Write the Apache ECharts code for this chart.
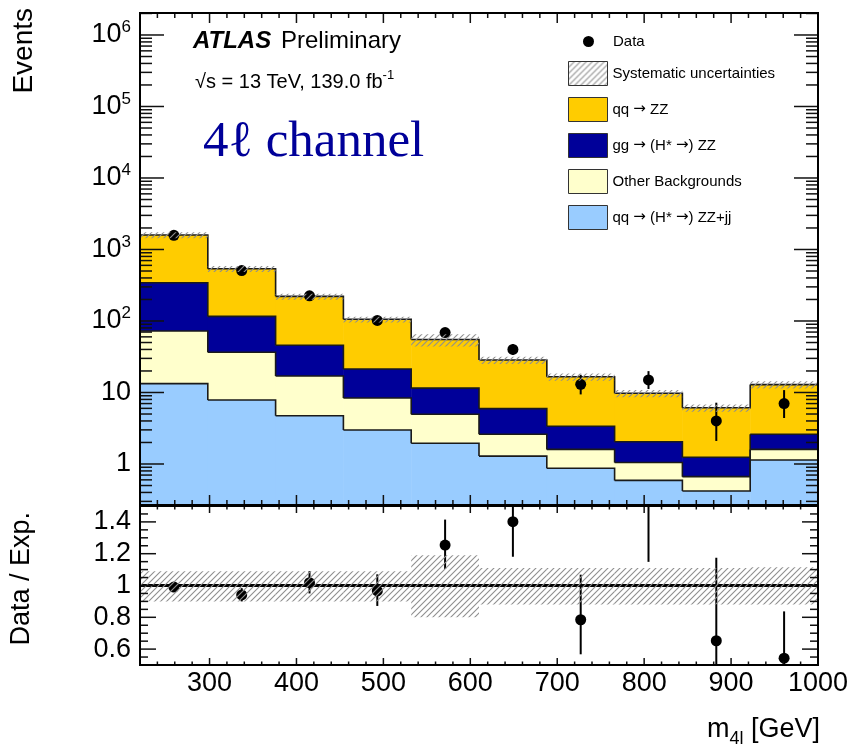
<!DOCTYPE html>
<html>
<head>
<meta charset="utf-8">
<script src="https://cdn.jsdelivr.net/npm/echarts@6/dist/echarts.min.js"></script>
<style>
html, body { margin: 0; padding: 0; background: #fff; }
#chart { width: 852px; height: 750px; }
</style>
</head>
<body>
<div id="chart"></div>
<script>
// m4l binning (GeV)
const binEdges = [220, 298, 376, 454, 532, 610, 688, 766, 844, 922, 1000];

// expected events per bin, per process
const qqZZjj   = [13.3, 7.86, 4.74, 2.99, 1.95, 1.29, 0.87, 0.59, 0.42, 1.14];
const otherBkg = [59.2, 28.6, 12.3, 5.39, 3.01, 1.31, 0.73, 0.46, 0.245, 0.46];
const ggZZ     = [270.5, 79.5, 28.7, 12.9, 6.54, 3.34, 1.77, 1.0, 0.575, 1.0];
const qqZZ     = [1253, 423, 175.3, 84.3, 43.5, 22.6, 13.2, 7.7, 4.89, 10.3];

// observed events with asymmetric statistical errors
const dataCounts  = [1580, 507, 225, 102, 69, 40, 13, 15, 4, 7];
const dataErrUp   = [40, 23, 16, 11, 8.8, 7.4, 4.7, 4.9, 3.2, 3.8];
const dataErrDown = [40, 22, 15, 10, 8.3, 6.3, 3.6, 3.8, 1.9, 2.6];

// relative systematic uncertainty of the expectation
const sysUp   = [0.09, 0.09, 0.09, 0.09, 0.19, 0.11, 0.11, 0.11, 0.11, 0.115];
const sysDown = [0.10, 0.10, 0.10, 0.10, 0.20, 0.12, 0.12, 0.12, 0.12, 0.12];

// tick labels
const massTicks = [300, 400, 500, 600, 700, 800, 900, 1000];
const ratioTicks = [0.6, 0.8, 1, 1.2, 1.4];
const eventDecades = [0, 1, 2, 3, 4, 5, 6];

// ---------------------------------------------------------------
const EV_MIN = 0.267, EV_MAX = 2.03e6;   // events axis range
const R_MIN = 0.5, R_MAX = 1.5;          // ratio axis range
const FLOOR = 1e-3;                      // lower edge of the bottom stack layer
const nBins = binEdges.length - 1;
const binCenters = dataCounts.map((_, i) => (binEdges[i] + binEdges[i + 1]) / 2);

const layers = [
  { name: 'qq → (H* →) ZZ+jj', values: qqZZjj, color: '#99ccff' },
  { name: 'Other Backgrounds', values: otherBkg, color: '#ffffcc' },
  { name: 'gg → (H* →) ZZ', values: ggZZ, color: '#000099' },
  { name: 'qq → ZZ', values: qqZZ, color: '#ffcc00' }
];
let running = new Array(nBins).fill(0);
layers.forEach(l => {
  l.lower = running.slice();
  running = running.map((v, i) => v + l.values[i]);
  l.upper = running.slice();
});
const total = running;

function hatchCanvas() {
  const c = document.createElement('canvas');
  c.width = 6; c.height = 6;
  const g = c.getContext('2d');
  g.strokeStyle = '#8f8f8f';
  g.lineWidth = 1.1;
  g.beginPath();
  g.moveTo(-1, 7); g.lineTo(7, -1);
  g.moveTo(-1, 1); g.lineTo(1, -1);
  g.moveTo(5, 7); g.lineTo(7, 5);
  g.stroke();
  return c;
}
const hatchFill = { image: hatchCanvas(), repeat: 'repeat' };

const FONT = '"Liberation Sans", Arial, Helvetica, sans-serif';
const EDGE = '#1a1a1a';

function layerSeries(layer, idx) {
  return {
    type: 'custom', name: layer.name, xAxisIndex: 0, yAxisIndex: 0, clip: true, z: 2,
    encode: { x: [0, 1], y: [2, 3] },
    data: layer.upper.map((hi, i) => [
      binEdges[i], binEdges[i + 1],
      idx === 0 ? FLOOR : layer.lower[i], hi,
      i < nBins - 1 ? layer.upper[i + 1] : hi
    ]),
    renderItem(params, api) {
      const pLo = api.coord([api.value(0), api.value(2)]);
      const pHi = api.coord([api.value(1), api.value(3)]);
      const pNext = api.coord([api.value(1), api.value(4)]);
      return {
        type: 'group',
        children: [
          { type: 'rect', z2: 0,
            shape: { x: pLo[0], y: pHi[1], width: pHi[0] - pLo[0] + 0.5, height: pLo[1] - pHi[1] },
            style: { fill: layer.color } },
          { type: 'polyline', z2: 10,
            shape: { points: [[pLo[0], pHi[1]], [pHi[0], pHi[1]], [pHi[0], pNext[1]]] },
            style: { stroke: EDGE, lineWidth: 1.6, fill: null } }
        ]
      };
    }
  };
}

function pointSeries(gridIdx, rows) {
  return {
    type: 'custom', name: 'Data', xAxisIndex: gridIdx, yAxisIndex: gridIdx, clip: true, z: 4,
    encode: { x: 0, y: 1 },
    data: rows,
    renderItem(params, api) {
      const c = api.coord([api.value(0), api.value(1)]);
      const lo = api.coord([api.value(0), api.value(2)]);
      const hi = api.coord([api.value(0), api.value(3)]);
      return {
        type: 'group',
        children: [
          { type: 'line', shape: { x1: c[0], y1: lo[1], x2: c[0], y2: hi[1] }, style: { stroke: '#000', lineWidth: 2 } },
          { type: 'circle', shape: { cx: c[0], cy: c[1], r: 5.5 }, style: { fill: '#000' } }
        ]
      };
    }
  };
}

function bandSeries(gridIdx, rows) {
  return {
    type: 'custom', name: 'Systematic uncertainties', xAxisIndex: gridIdx, yAxisIndex: gridIdx, clip: true, z: 5,
    encode: { x: [0, 1], y: [2, 3] },
    data: rows,
    renderItem(params, api) {
      const a = api.coord([api.value(0), api.value(3)]);
      const b = api.coord([api.value(1), api.value(2)]);
      return { type: 'rect', shape: { x: a[0], y: a[1], width: b[0] - a[0], height: b[1] - a[1] },
               style: { fill: hatchFill } };
    }
  };
}

const tickStyle = { stroke: '#111', lineWidth: 1.5 };

// ticks along the horizontal edges of a panel (top and bottom, pointing inward)
function xTickSeries(gridIdx, majorLen, minorLen) {
  const rows = [];
  for (let v = binEdges[0] + 20; v < binEdges[nBins]; v += 20) rows.push([v, 1, v % 100 === 0 ? 1 : 0]);
  return {
    type: 'custom', xAxisIndex: gridIdx, yAxisIndex: gridIdx, clip: false, z: 6, silent: true,
    encode: { x: 0, y: 1 }, data: rows,
    renderItem(params, api) {
      const cs = params.coordSys;
      const p = api.coord([api.value(0), api.value(1)]);
      const len = api.value(2) ? majorLen : minorLen;
      const yb = cs.y + cs.height;
      return { type: 'group', children: [
        { type: 'line', shape: { x1: p[0], y1: cs.y, x2: p[0], y2: cs.y + len }, style: tickStyle },
        { type: 'line', shape: { x1: p[0], y1: yb, x2: p[0], y2: yb - len }, style: tickStyle }
      ] };
    }
  };
}

// ticks along the vertical edges of a panel (left and right, pointing inward)
function yTickSeries(gridIdx, rows, majorLen, minorLen) {
  return {
    type: 'custom', xAxisIndex: gridIdx, yAxisIndex: gridIdx, clip: false, z: 6, silent: true,
    encode: { x: 0, y: 1 }, data: rows,
    renderItem(params, api) {
      const cs = params.coordSys;
      const p = api.coord([api.value(0), api.value(1)]);
      const len = api.value(2) ? majorLen : minorLen;
      const xr = cs.x + cs.width;
      return { type: 'group', children: [
        { type: 'line', shape: { x1: cs.x, y1: p[1], x2: cs.x + len, y2: p[1] }, style: tickStyle },
        { type: 'line', shape: { x1: xr, y1: p[1], x2: xr - len, y2: p[1] }, style: tickStyle }
      ] };
    }
  };
}

const logTickRows = [];
for (let e = -1; e <= 6; e++) {
  for (let k = 1; k <= 9; k++) {
    const v = k * Math.pow(10, e);
    if (v > EV_MIN && v < EV_MAX) logTickRows.push([binEdges[0], v, k === 1 ? 1 : 0]);
  }
}
const ratioTickRows = [];
for (let k = 11; k <= 29; k++) ratioTickRows.push([binEdges[0], k * 0.05, k % 4 === 0 ? 1 : 0]);

const upperData = dataCounts.map((n, i) => [binCenters[i], n, n - dataErrDown[i], n + dataErrUp[i]]);
const ratioData = dataCounts.map((n, i) => [binCenters[i], n / total[i], (n - dataErrDown[i]) / total[i], (n + dataErrUp[i]) / total[i]]);
const upperBand = total.map((t, i) => [binEdges[i], binEdges[i + 1], t * (1 - sysDown[i]), t * (1 + sysUp[i])]);
const ratioBand = total.map((t, i) => [binEdges[i], binEdges[i + 1], 1 - sysDown[i], 1 + sysUp[i]]);

function logLabel(v) {
  const l = Math.log10(v);
  const e = Math.round(l);
  if (Math.abs(l - e) > 1e-6 || !eventDecades.includes(e)) return '';
  if (e === 0) return '{b|1}';
  if (e === 1) return '{b|10}';
  return '{b|10}{s|' + e + '}';
}

const legendBox = (color) => ({ color: color, borderColor: '#333', borderWidth: 1 });
const legendText = {
  fontSize: 15, color: '#000', fontFamily: FONT,
  rich: {
    t: { fontSize: 15, color: '#000', fontFamily: FONT },
    r: { fontSize: 15, color: '#000', fontFamily: '"DejaVu Sans", sans-serif' }
  }
};
const legendFormatter = name => name.split('→').map(p => p ? '{t|' + p + '}' : '').join('{r|→}');

const chart = echarts.init(document.getElementById('chart'), null, { renderer: 'canvas' });
chart.setOption({
  animation: false,
  backgroundColor: '#fff',
  textStyle: { fontFamily: FONT, color: '#000' },
  grid: [
    { left: 140, top: 13, width: 678, height: 492, show: true, z: 10, borderColor: '#000', borderWidth: 2,
      backgroundColor: 'transparent', containLabel: false, outerBoundsMode: 'none' },
    { left: 140, top: 506, width: 678, height: 159, show: true, z: 10, borderColor: '#000', borderWidth: 2,
      backgroundColor: 'transparent', containLabel: false, outerBoundsMode: 'none' }
  ],
  xAxis: [
    { gridIndex: 0, type: 'value', min: binEdges[0], max: binEdges[nBins], interval: 20,
      axisLine: { show: false }, axisTick: { show: false }, axisLabel: { show: false }, splitLine: { show: false } },
    { gridIndex: 1, type: 'value', min: binEdges[0], max: binEdges[nBins], interval: 20,
      axisLine: { show: false }, axisTick: { show: false }, splitLine: { show: false },
      axisLabel: { fontSize: 27, color: '#000', margin: 5, fontFamily: FONT,
        formatter: v => massTicks.includes(Math.round(v)) ? String(Math.round(v)) : '' } }
  ],
  yAxis: [
    { gridIndex: 0, type: 'log', logBase: 10, min: EV_MIN, max: EV_MAX,
      axisLine: { show: false }, axisTick: { show: false }, splitLine: { show: false },
      axisLabel: { margin: 9, color: '#000', formatter: logLabel, showMinLabel: false, showMaxLabel: false,
        rich: {
          b: { fontSize: 27, lineHeight: 32, fontFamily: FONT, color: '#000' },
          s: { fontSize: 17, lineHeight: 12, verticalAlign: 'top', fontFamily: FONT, color: '#000' }
        } } },
    { gridIndex: 1, type: 'value', min: R_MIN, max: R_MAX, interval: 0.1,
      axisLine: { show: false }, axisTick: { show: false }, splitLine: { show: false },
      axisLabel: { fontSize: 27, margin: 9, color: '#000', fontFamily: FONT,
        formatter: v => { const t = ratioTicks.find(r => Math.abs(r - v) < 1e-6); return t === undefined ? '' : String(t); } } }
  ],
  legend: [
    { orient: 'vertical', left: 583, top: 34, padding: 0, itemWidth: 39, itemHeight: 11,
      textStyle: legendText, formatter: legendFormatter,
      data: [{ name: 'Data', icon: 'circle', itemStyle: { color: '#000', borderWidth: 0 } }] },
    { orient: 'vertical', left: 568, top: 61, padding: 0, itemWidth: 39, itemHeight: 24, itemGap: 11,
      textStyle: legendText, formatter: legendFormatter,
      data: [
        { name: 'Systematic uncertainties', icon: 'rect', itemStyle: legendBox(hatchFill) },
        { name: 'qq → ZZ', icon: 'rect', itemStyle: legendBox(layers[3].color) },
        { name: 'gg → (H* →) ZZ', icon: 'rect', itemStyle: legendBox(layers[2].color) },
        { name: 'Other Backgrounds', icon: 'rect', itemStyle: legendBox(layers[1].color) },
        { name: 'qq → (H* →) ZZ+jj', icon: 'rect', itemStyle: legendBox(layers[0].color) }
      ] }
  ],
  graphic: [
    { type: 'text', x: 193, y: 41, style: { text: 'ATLAS', font: 'italic bold 24px ' + FONT, fill: '#000', verticalAlign: 'middle' } },
    { type: 'text', x: 281, y: 41, style: { text: 'Preliminary', font: '24px ' + FONT, fill: '#000', verticalAlign: 'middle' } },
    { type: 'text', x: 195, y: 82, style: {
        text: '{a|√s = 13 TeV, 139.0 fb}{s|-1}', verticalAlign: 'middle',
        rich: { a: { fontSize: 20, fontFamily: FONT, lineHeight: 26, fill: '#000' },
                s: { fontSize: 13, fontFamily: FONT, lineHeight: 12, verticalAlign: 'top', fill: '#000' } } } },
    { type: 'text', x: 203, y: 143, style: { text: '4ℓ channel', font: '51px "Liberation Serif", "DejaVu Serif", serif', fill: '#000099', verticalAlign: 'middle' } },
    { type: 'text', x: 24, y: 8, rotation: Math.PI / 2, style: { text: 'Events', font: '28px ' + FONT, fill: '#000', align: 'right', verticalAlign: 'middle' } },
    { type: 'text', x: 22, y: 512, rotation: Math.PI / 2, style: { text: 'Data / Exp.', font: '27px ' + FONT, fill: '#000', align: 'right', verticalAlign: 'middle' } },
    { type: 'text', x: 820, y: 730, style: {
        text: '{a|m}{s|4l}{a| [GeV]}', align: 'right', verticalAlign: 'middle',
        rich: { a: { fontSize: 27, fontFamily: FONT, lineHeight: 36, fill: '#000' },
                s: { fontSize: 18, fontFamily: FONT, lineHeight: 14, verticalAlign: 'bottom', fill: '#000' } } } }
  ],
  series: [
    ...layers.map(layerSeries),
    pointSeries(0, upperData),
    bandSeries(0, upperBand),
    xTickSeries(0, 10, 5),
    yTickSeries(0, logTickRows, 24, 12),
    {
      type: 'custom', name: 'Expectation', xAxisIndex: 1, yAxisIndex: 1, clip: true, z: 3, silent: true,
      encode: { x: [0, 1], y: 2 },
      data: [[binEdges[0], binEdges[nBins], 1]],
      renderItem(params, api) {
        const a = api.coord([api.value(0), api.value(2)]);
        const b = api.coord([api.value(1), api.value(2)]);
        return { type: 'line', shape: { x1: a[0], y1: a[1], x2: b[0], y2: b[1] }, style: { stroke: '#000', lineWidth: 3 } };
      }
    },
    pointSeries(1, ratioData),
    bandSeries(1, ratioBand),
    xTickSeries(1, 7, 3.5),
    yTickSeries(1, ratioTickRows, 16, 8)
  ]
});
</script>
</body>
</html>
